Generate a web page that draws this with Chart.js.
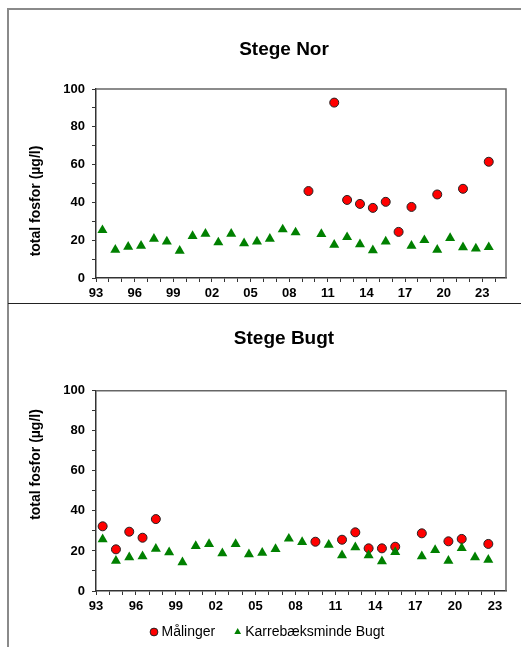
<!DOCTYPE html>
<html>
<head>
<meta charset="utf-8">
<script src="https://cdn.jsdelivr.net/npm/chart.js@4.4.1/dist/chart.umd.min.js"></script>
<style>
	html,
	body {
		margin: 0;
		padding: 0;
		background: #ffffff;
	}
	body {
		position: relative;
		width: 521px;
		height: 647px;
		overflow: hidden;
	}
	.marco {
		position: absolute;
		border: 0 solid #8a8a8a;
	}
	#marcoNor {
		left: 7px;
		top: 8px;
		width: 600px;
		height: 296px;
		border-left-width: 2px;
		border-top-width: 2px;
	}
	#marcoBugt {
		left: 7px;
		top: 304px;
		width: 600px;
		height: 400px;
		border-left-width: 2px;
	}
	#divisor {
		position: absolute;
		left: 8px;
		top: 303px;
		width: 600px;
		height: 1px;
		background: #222222;
	}
	canvas {
		position: absolute;
		left: 0;
	}
	#canvaNor {
		top: 0;
	}
	#canvaBugt {
		top: 304px;
	}
</style>
</head>
<body>
<div class="marco" id="marcoNor"></div>
<div class="marco" id="marcoBugt"></div>
<div id="divisor"></div>
<canvas id="canvaNor" width="521" height="304"></canvas>
<canvas id="canvaBugt" width="521" height="359"></canvas>
<script>
//main Datos
//* Stege Nor: años (mitad del año) y total fosfor
const norMaalAar = [2009.5, 2011.5, 2012.5, 2013.5, 2014.5, 2015.5, 2016.5, 2017.5, 2019.5, 2021.5, 2023.5];
const norMaal = [46, 92.8, 41.3, 39.2, 37.1, 40.3, 24.4, 37.6, 44.2, 47.2, 61.5];
const norKarrAar = [
	1993.5, 1994.5, 1995.5, 1996.5, 1997.5, 1998.5, 1999.5, 2000.5, 2001.5, 2002.5, 2003.5, 2004.5, 2005.5, 2006.5,
	2007.5, 2008.5, 2010.5, 2011.5, 2012.5, 2013.5, 2014.5, 2015.5, 2017.5, 2018.5, 2019.5, 2020.5, 2021.5, 2022.5,
	2023.5,
];
const norKarr = [
	25.3, 14.9, 16.5, 17, 20.7, 19.3, 14.4, 22.2, 23.4, 18.8, 23.4, 18.3, 19.3, 20.7, 25.7, 24.1, 23.2, 17.6, 21.6,
	17.8, 14.6, 19.3, 17, 20, 14.9, 21.1, 16.2, 15.6, 16.3,
];
//* Stege Bugt: años (mitad del año) y total fosfor
const bugtMaalAar = [
	1993.5, 1994.5, 1995.5, 1996.5, 1997.5, 2009.5, 2011.5, 2012.5, 2013.5, 2014.5, 2015.5, 2017.5, 2019.5, 2020.5,
	2022.5,
];
const bugtMaal = [32.3, 20.8, 29.6, 26.6, 35.9, 24.6, 25.6, 29.3, 21.3, 21.3, 22.1, 28.8, 24.8, 26, 23.5];
const bugtKarrAar = [
	1993.5, 1994.5, 1995.5, 1996.5, 1997.5, 1998.5, 1999.5, 2000.5, 2001.5, 2002.5, 2003.5, 2004.5, 2005.5, 2006.5,
	2007.5, 2008.5, 2010.5, 2011.5, 2012.5, 2013.5, 2014.5, 2015.5, 2017.5, 2018.5, 2019.5, 2020.5, 2021.5, 2022.5,
];
const bugtKarr = [
	25.8, 15.1, 16.8, 17.3, 21.1, 19.3, 14.3, 22.4, 23.4, 18.8, 23.4, 18.3, 19.1, 20.9, 26.1, 24.4, 23.1, 17.8, 21.8,
	17.8, 14.8, 19.4, 17.3, 20.4, 15.1, 21.4, 16.8, 15.6,
];
//* Etiquetas del eje x
const xTicks = [1993, 1996, 1999, 2002, 2005, 2008, 2011, 2014, 2017, 2020, 2023];
const xTickLabels = ["93", "96", "99", "02", "05", "08", "11", "14", "17", "20", "23"];
//* Etiquetas del eje y
const yTickLabels = [0, 20, 40, 60, 80, 100];
//* Textos
const titulos = ["Stege Nor", "Stege Bugt"];
const serieNombres = ["Målinger", "Karrebæksminde Bugt"];
const ejeYTitulo = "total fosfor (µg/l)";

//* Fuente
const fuente = "'Liberation Sans', Arial, sans-serif";

//* Título vertical del eje y
const tituloEjeY = {
	id: "tituloEjeY",
	afterDraw(chart, args, opts) {
		const ctx = chart.ctx;
		ctx.save();
		ctx.translate(opts.x, opts.y);
		ctx.rotate(-Math.PI / 2);
		ctx.font = "bold 14px " + fuente;
		ctx.fillStyle = "#000000";
		ctx.textAlign = "center";
		ctx.textBaseline = "middle";
		ctx.fillText(opts.text, 0, 0);
		ctx.restore();
	},
};

//* Lineas superior y derecha del área del gráfico
const marcoGrafico = {
	id: "marcoGrafico",
	beforeDatasetsDraw(chart) {
		const { ctx, chartArea: a } = chart;
		ctx.save();
		ctx.strokeStyle = "#666666";
		ctx.lineWidth = 1.5;
		ctx.beginPath();
		ctx.moveTo(a.left, a.top);
		ctx.lineTo(a.right, a.top);
		ctx.lineTo(a.right, a.bottom);
		ctx.stroke();
		ctx.restore();
	},
};

//* Movemos la leyenda (horizontal y vertical)
const mueveLeyenda = {
	id: "mueveLeyenda",
	afterLayout(chart, args, opts) {
		if (chart.legend && chart.legend.options.display) {
			chart.legend.left += opts.dx;
			chart.legend.right += opts.dx;
			chart.legend.top += opts.dy;
			chart.legend.bottom += opts.dy;
		}
	},
};

//funcion Creamos un gráfico
function creaGrafico(idCanvas, titulo, maalAar, maal, karrAar, karr, xMax, ajustes) {
	const ctx = document.getElementById(idCanvas);
	//* Estilo común de ejes
	const grid = { drawOnChartArea: false, drawTicks: true, tickLength: 4, color: "#333333", lineWidth: 1 };
	const border = { display: true, color: "#333333", width: 1.5 };
	const tickFont = { size: 13, weight: "bold", family: fuente };
	return new Chart(ctx, {
		type: "scatter",
		data: {
			datasets: [
				{
					label: serieNombres[0],
					data: maalAar.map((a, i) => ({ x: a, y: maal[i] })),
					pointStyle: "circle",
					pointRadius: 4.5,
					pointBackgroundColor: "#ff0000",
					pointBorderColor: "#222222",
					pointBorderWidth: 1,
					backgroundColor: "#ff0000",
					borderColor: "#222222",
					order: 2,
				},
				{
					label: serieNombres[1],
					data: karrAar.map((a, i) => ({ x: a, y: karr[i] })),
					pointStyle: "triangle",
					pointRadius: 5.8,
					pointBackgroundColor: "#008000",
					pointBorderColor: "#008000",
					pointBorderWidth: 0,
					backgroundColor: "#008000",
					borderColor: "#008000",
					borderWidth: 0,
					order: 1,
				},
			],
		},
		options: {
			responsive: false,
			animation: false,
			layout: { padding: { left: 62, right: 15, top: 0, bottom: 0 } },
			plugins: {
				title: {
					display: true,
					text: titulo,
					color: "#000000",
					font: { size: 19, weight: "bold", family: fuente },
					padding: { top: ajustes.tituloArriba, bottom: ajustes.tituloAbajo },
				},
				legend: {
					display: ajustes.leyenda,
					position: "bottom",
					labels: {
						usePointStyle: true,
						boxWidth: 1,
						boxHeight: 5.5,
						padding: 22,
						color: "#000000",
						font: { size: 14, family: fuente },
						sort: (a, b) => a.datasetIndex - b.datasetIndex,
					},
				},
				tooltip: { enabled: false },
				tituloEjeY: { text: ejeYTitulo, x: 36, y: ajustes.tituloY },
				mueveLeyenda: { dx: -15, dy: -14 },
			},
			scales: {
				x: {
					type: "linear",
					min: 1993,
					max: xMax,
					afterFit: (s) => {
						s.height = 26;
					},
					grid: grid,
					border: border,
					ticks: {
						stepSize: 1,
						autoSkip: false,
						maxRotation: 0,
						includeBounds: false,
						padding: 4,
						color: "#000000",
						font: tickFont,
						callback: (v) => {
							const i = xTicks.indexOf(Math.round(v));
							return i >= 0 ? xTickLabels[i] : "";
						},
					},
				},
				y: {
					min: 0,
					max: 100,
					afterFit: (s) => {
						s.width = 34;
					},
					grid: grid,
					border: border,
					ticks: {
						stepSize: 10,
						padding: 7,
						color: "#000000",
						font: tickFont,
						callback: (v) => (yTickLabels.includes(v) ? String(v) : ""),
					},
				},
			},
		},
		plugins: [tituloEjeY, marcoGrafico, mueveLeyenda],
	});
}

//* Dibujamos los gráficos
const graficoNor = creaGrafico("canvaNor", titulos[0], norMaalAar, norMaal, norKarrAar, norKarr, 2024.84, {
	tituloArriba: 38.6,
	tituloAbajo: 27.6,
	leyenda: false,
	tituloY: 201,
});
const graficoBugt = creaGrafico("canvaBugt", titulos[1], bugtMaalAar, bugtMaal, bugtKarrAar, bugtKarr, 2023.83, {
	tituloArriba: 23.6,
	tituloAbajo: 40.3,
	leyenda: true,
	tituloY: 160.5,
});
</script>
</body>
</html>
